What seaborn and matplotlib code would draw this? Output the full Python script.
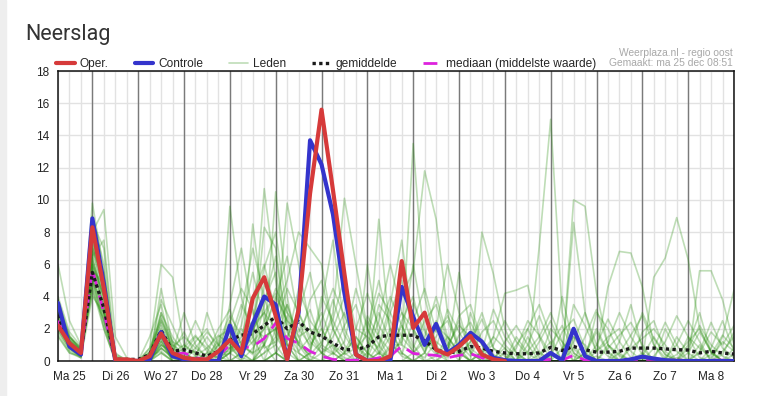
import numpy as np
import pandas as pd
import matplotlib
matplotlib.use("Agg")
import matplotlib.pyplot as plt
from matplotlib.lines import Line2D
from matplotlib.patches import Rectangle
import seaborn as sns

# tijdstappen van 6 uur, vanaf ma 25 dec 06:00
uur = np.arange(60) * 6
dagen = ["Ma 25", "Di 26", "Wo 27", "Do 28", "Vr 29", "Za 30", "Zo 31", "Ma 1",
         "Di 2", "Wo 3", "Do 4", "Vr 5", "Za 6", "Zo 7", "Ma 8"]

# neerslag in mm per 6 uur
oper = [2.2, 1.1, 0.5, 8.3, 4.5, 0.1, 0.1, 0.0, 0.3, 1.7,
        0.5, 0.2, 0.1, 0.1, 0.6, 1.3, 0.5, 3.9, 5.2, 2.8,
        0.1, 3.2, 10.4, 15.6, 10.6, 5.4, 0.4, 0.0, 0.0, 0.3,
        6.2, 2.05, 3.0, 0.7, 0.4, 0.9, 1.55, 0.4, 0.1, 0.0]
controle = [3.6, 0.9, 0.4, 8.85, 4.8, 0.0, 0.0, 0.0, 0.1, 1.8,
            0.3, 0.1, 0.1, 0.0, 0.0, 2.2, 0.3, 2.3, 4.0, 3.5,
            0.1, 3.0, 13.7, 12.2, 9.1, 4.2, 0.4, 0.0, 0.0, 0.0,
            4.6, 2.75, 1.0, 2.3, 0.5, 1.0, 1.75, 1.2, 0.2, 0.05,
            0.0, 0.0, 0.0, 0.5, 0.05, 2.0, 0.3, 0.0, 0.0, 0.0,
            0.1, 0.27, 0.15, 0.05, 0.0, 0.0, 0.0, 0.0, 0.0, 0.0]
gemiddelde = [2.85, 1.0, 0.5, 5.5, 3.3, 0.1, 0.1, 0.1, 0.4, 1.9,
              0.6, 0.7, 0.5, 0.3, 0.6, 1.3, 1.6, 1.7, 2.2, 2.75,
              2.0, 2.45, 1.8, 1.55, 1.1, 0.7, 0.7, 0.9, 1.5, 1.6,
              1.6, 1.6, 1.26, 0.7, 0.5, 0.6, 0.9, 0.8, 0.6, 0.5,
              0.45, 0.45, 0.5, 0.85, 0.65, 0.9, 0.7, 0.55, 0.55, 0.6,
              0.8, 0.8, 0.8, 0.75, 0.7, 0.68, 0.5, 0.6, 0.5, 0.43]
mediaan = [2.5, 0.9, 0.4, 5.7, 3.0, 0.05, 0.05, 0.05, 0.1, 1.7,
           0.4, 0.5, 0.2, 0.1, 0.3, 1.0, 0.8, 0.9, 1.4, 2.35,
           1.4, 1.1, 0.6, 0.3, 0.1, 0.05, 0.05, 0.05, 0.2, 0.3,
           0.93, 0.47, 0.4, 0.35, 0.2, 0.35, 0.45, 0.2, 0.05, 0.0,
           0.0, 0.0, 0.05, 0.1, 0.05, 0.35, 0.05, 0.0, 0.0, 0.05,
           0.1, 0.1, 0.1, 0.05, 0.05, 0.05, 0.0, 0.05, 0.05, 0.0]

# ensembleleden
lid01 = [3.2, 1.0, 0.4, 6.0, 3.0, 0.0, 0.0, 0.0, 0.5, 2.2,
         0.8, 0.3, 0.0, 0.2, 1.0, 2.5, 1.0, 0.5, 3.5, 6.5,
         2.0, 1.2, 0.3, 0.0, 2.0, 4.0, 1.0, 0.0, 0.0, 0.8,
         2.2, 0.5, 0.0, 0.3, 1.5, 0.6, 0.0, 0.0, 0.2, 0.8,
         0.0, 0.0, 0.4, 1.2, 0.0, 0.0, 0.5, 2.0, 0.6, 0.0,
         0.0, 0.3, 1.5, 0.4, 0.0, 0.0, 0.0, 0.8, 2.5, 0.6]
lid02 = [2.0, 1.5, 0.8, 9.8, 5.5, 0.3, 0.0, 0.0, 0.2, 1.0,
         0.3, 0.0, 0.0, 0.5, 0.2, 0.8, 3.0, 7.0, 4.0, 1.5,
         0.5, 3.0, 5.5, 2.0, 0.8, 0.2, 0.0, 1.0, 3.0, 1.2,
         0.3, 0.0, 0.5, 2.5, 1.0, 0.0, 0.0, 0.6, 0.0, 0.0,
         0.0, 1.5, 0.2, 0.0, 0.0, 0.8, 0.0, 0.0, 0.0, 1.2,
         3.5, 0.8, 0.0, 0.0, 0.2, 0.0, 1.0, 0.0, 0.0, 0.0]
lid03 = [6.0, 2.5, 1.0, 4.5, 2.0, 0.0, 0.0, 0.0, 0.0, 0.8,
         0.2, 0.5, 1.5, 0.8, 0.0, 0.0, 0.5, 1.5, 10.7, 5.0,
         1.0, 0.0, 0.5, 3.5, 7.5, 2.0, 0.5, 0.0, 0.0, 0.0,
         1.5, 6.0, 2.0, 0.5, 0.0, 0.0, 1.2, 3.0, 0.8, 0.0,
         0.0, 0.0, 0.0, 0.5, 0.0, 0.0, 0.0, 0.0, 1.0, 0.3,
         0.0, 0.0, 0.0, 2.0, 0.6, 0.0, 0.0, 0.0, 0.0, 0.0]
lid04 = [2.5, 0.8, 0.2, 8.0, 9.4, 1.5, 0.2, 0.0, 0.0, 4.5,
         1.0, 0.0, 0.0, 0.0, 0.5, 1.0, 0.0, 0.8, 2.0, 4.0,
         2.5, 1.0, 0.0, 0.0, 0.5, 0.0, 0.0, 2.0, 5.0, 2.0,
         0.5, 0.0, 0.0, 0.0, 0.8, 2.5, 0.5, 0.0, 0.0, 0.0,
         1.5, 0.5, 0.0, 0.0, 0.0, 0.0, 0.0, 0.3, 0.0, 0.0,
         0.0, 0.0, 0.0, 0.0, 0.0, 0.5, 1.8, 0.6, 0.0, 0.0]
lid05 = [3.0, 1.2, 0.5, 5.0, 3.5, 0.0, 0.0, 0.0, 0.8, 6.0,
         5.2, 1.0, 0.3, 0.0, 0.0, 9.6, 4.0, 1.5, 0.0, 2.0,
         3.5, 1.5, 0.0, 0.5, 1.0, 0.0, 0.0, 0.0, 1.0, 3.5,
         7.5, 2.0, 0.5, 0.0, 0.0, 0.0, 0.0, 0.0, 0.0, 0.0,
         0.0, 0.0, 0.0, 0.0, 0.0, 0.0, 0.5, 0.0, 0.0, 0.0,
         0.0, 0.0, 0.0, 0.0, 0.0, 0.0, 0.0, 0.0, 0.0, 0.0]
lid06 = [2.8, 1.0, 0.6, 7.0, 5.0, 0.0, 0.0, 0.0, 0.3, 1.5,
         0.5, 3.0, 1.0, 0.2, 0.0, 0.5, 1.0, 0.5, 1.0, 10.5,
         4.0, 0.5, 0.0, 0.0, 0.0, 0.5, 1.5, 0.5, 0.0, 0.0,
         0.0, 0.5, 1.5, 4.0, 1.5, 0.5, 0.0, 0.0, 0.0, 0.0,
         0.0, 0.0, 0.0, 0.0, 4.0, 1.0, 0.0, 0.0, 0.0, 0.0,
         0.0, 0.5, 0.0, 0.0, 0.0, 0.0, 0.0, 0.0, 0.0, 0.4]
lid07 = [1.5, 0.5, 0.3, 4.5, 2.5, 0.0, 0.0, 0.0, 0.0, 0.5,
         0.0, 0.0, 0.0, 3.0, 1.0, 0.0, 0.0, 0.0, 0.5, 1.5,
         9.8, 6.0, 2.0, 0.5, 0.0, 0.0, 0.0, 0.0, 0.5, 0.0,
         0.0, 0.0, 0.0, 0.0, 0.0, 0.0, 0.0, 0.5, 1.5, 4.2,
         4.4, 4.7, 1.5, 0.0, 0.0, 0.0, 0.0, 0.0, 0.0, 0.0,
         0.0, 0.0, 0.0, 0.0, 0.0, 0.0, 0.0, 0.0, 1.5, 4.4]
lid08 = [3.5, 1.5, 0.8, 6.5, 7.5, 0.5, 0.0, 0.0, 0.0, 3.0,
         1.5, 0.5, 0.0, 0.0, 0.0, 3.5, 7.0, 3.0, 1.0, 0.0,
         0.0, 0.0, 0.0, 1.0, 3.0, 10.1, 6.0, 2.0, 0.5, 0.0,
         0.0, 0.0, 0.0, 0.0, 0.0, 0.0, 0.0, 0.0, 0.0, 0.0,
         0.0, 0.0, 0.0, 0.0, 0.0, 0.0, 0.0, 0.0, 0.0, 0.0,
         0.0, 0.0, 0.0, 0.0, 0.0, 1.0, 3.0, 0.5, 0.0, 0.0]
lid09 = [2.2, 0.8, 0.3, 5.5, 2.5, 0.0, 0.0, 0.0, 0.2, 1.2,
         0.3, 0.8, 2.5, 1.0, 0.3, 0.0, 0.0, 8.5, 3.0, 0.5,
         0.0, 0.0, 0.0, 0.0, 0.0, 0.0, 0.0, 0.0, 0.0, 1.0,
         1.0, 13.5, 4.0, 1.0, 0.0, 0.0, 0.0, 0.0, 0.0, 0.0,
         0.0, 0.0, 0.0, 0.0, 0.0, 0.0, 0.0, 0.0, 0.0, 0.0,
         0.0, 0.0, 0.0, 0.0, 0.0, 0.0, 0.0, 0.0, 0.0, 0.0]
lid10 = [2.6, 1.2, 0.7, 9.0, 6.0, 0.2, 0.0, 0.0, 0.0, 2.0,
         0.8, 0.0, 0.0, 0.0, 0.0, 0.5, 2.0, 1.0, 8.3, 7.0,
         2.0, 0.0, 0.0, 0.0, 0.0, 0.0, 0.0, 0.0, 8.8, 1.5,
         4.0, 5.6, 11.8, 8.8, 3.0, 0.5, 0.0, 0.0, 0.0, 0.0,
         0.0, 0.0, 0.0, 0.0, 0.0, 0.0, 0.0, 0.0, 0.0, 0.0,
         0.0, 0.0, 0.0, 0.0, 0.0, 0.0, 0.0, 0.0, 0.0, 0.0]
lid11 = [1.8, 0.6, 0.2, 4.0, 3.0, 0.0, 0.0, 0.0, 0.0, 0.8,
         0.2, 0.0, 0.0, 0.0, 0.0, 0.0, 0.0, 0.0, 1.0, 3.0,
         5.0, 8.0, 7.0, 6.0, 2.0, 0.5, 0.0, 0.0, 0.0, 0.0,
         0.0, 0.0, 0.0, 0.0, 0.0, 0.0, 0.0, 8.0, 5.4, 2.0,
         0.5, 0.0, 0.0, 0.0, 0.0, 0.0, 0.0, 0.0, 0.0, 0.0,
         0.0, 0.0, 0.0, 0.0, 0.0, 0.0, 0.0, 0.0, 0.0, 0.0]
lid12 = [4.0, 1.8, 0.9, 6.0, 4.0, 0.0, 0.0, 0.0, 1.5, 3.5,
         0.5, 0.0, 0.0, 0.0, 1.5, 2.0, 0.5, 0.0, 0.0, 0.5,
         1.5, 3.0, 1.5, 0.5, 0.0, 0.0, 0.0, 0.5, 2.5, 6.0,
         3.0, 1.0, 0.0, 0.0, 0.5, 5.5, 2.0, 0.5, 0.0, 0.0,
         0.0, 0.0, 7.1, 15.0, 3.0, 0.5, 0.0, 0.0, 0.0, 0.0,
         0.0, 0.0, 0.0, 0.0, 0.0, 0.0, 0.0, 0.0, 0.0, 0.0]
lid13 = [2.4, 1.0, 0.5, 7.5, 3.0, 0.0, 0.0, 0.0, 0.0, 1.5,
         0.0, 0.0, 0.0, 0.0, 0.0, 1.5, 0.5, 0.0, 1.0, 2.5,
         1.0, 0.0, 0.0, 0.0, 0.0, 0.0, 0.0, 6.0, 1.5, 0.0,
         0.0, 0.0, 0.0, 0.0, 0.0, 0.0, 0.0, 0.0, 0.0, 0.5,
         0.0, 0.0, 0.0, 0.0, 0.0, 10.0, 9.6, 4.2, 1.0, 0.0,
         0.0, 0.0, 0.0, 0.0, 0.0, 0.0, 0.0, 0.0, 0.0, 0.0]
lid14 = [3.4, 1.2, 0.6, 6.8, 4.5, 0.0, 0.0, 0.0, 0.0, 1.0,
         0.5, 1.0, 0.5, 0.0, 0.0, 0.0, 0.0, 0.0, 0.5, 1.0,
         0.0, 0.0, 0.0, 0.0, 0.0, 0.5, 1.5, 0.5, 0.0, 0.0,
         0.0, 0.0, 0.0, 0.0, 0.0, 0.0, 0.0, 0.0, 0.0, 0.0,
         0.0, 0.0, 0.0, 0.0, 0.0, 8.6, 3.0, 0.5, 4.6, 6.8,
         6.7, 4.6, 1.0, 0.0, 0.0, 0.0, 0.0, 0.0, 0.0, 0.0]
lid15 = [2.0, 0.7, 0.3, 5.0, 2.0, 0.0, 0.0, 0.0, 0.0, 0.5,
         0.0, 0.0, 0.0, 0.0, 0.0, 0.0, 0.0, 0.0, 0.0, 0.5,
         0.0, 0.0, 0.0, 0.0, 0.0, 0.0, 0.0, 0.0, 0.0, 0.0,
         0.0, 0.0, 0.0, 0.0, 0.0, 0.0, 0.0, 0.0, 0.0, 0.0,
         0.0, 0.0, 0.0, 0.0, 0.0, 0.0, 0.0, 0.0, 0.0, 0.0,
         0.0, 0.0, 5.2, 6.4, 8.9, 6.3, 2.0, 0.5, 0.0, 0.0]
lid16 = [3.0, 1.4, 0.7, 5.8, 3.5, 0.0, 0.0, 0.0, 0.3, 2.5,
         1.0, 0.5, 0.0, 0.0, 0.3, 0.5, 1.5, 4.0, 6.0, 3.0,
         1.0, 0.5, 0.0, 0.0, 0.0, 0.0, 0.0, 0.0, 0.0, 0.0,
         0.0, 0.0, 0.0, 0.0, 0.0, 0.0, 0.0, 0.0, 0.0, 0.0,
         0.0, 0.0, 0.0, 0.0, 0.0, 0.0, 0.0, 0.0, 0.0, 0.0,
         0.0, 0.0, 0.0, 0.0, 0.0, 0.0, 5.6, 5.6, 3.8, 1.0]
lid17 = [1.6, 0.5, 0.2, 4.8, 2.8, 0.0, 0.0, 0.0, 0.0, 1.2,
         0.0, 0.0, 0.0, 0.0, 0.0, 0.5, 0.0, 0.0, 2.5, 4.5,
         3.0, 2.0, 1.0, 2.0, 0.5, 0.0, 0.0, 0.0, 0.0, 0.0,
         0.0, 0.0, 0.5, 2.0, 6.0, 3.0, 0.5, 0.0, 0.0, 0.0,
         0.0, 0.0, 0.0, 0.0, 0.0, 0.0, 0.0, 0.0, 0.0, 0.0,
         0.0, 0.0, 0.0, 0.0, 0.0, 0.0, 0.0, 0.0, 0.0, 0.0]
lid18 = [2.7, 1.1, 0.5, 6.2, 4.2, 0.0, 0.0, 0.0, 0.0, 1.8,
         0.2, 0.0, 0.0, 0.0, 0.0, 0.8, 0.2, 0.0, 0.0, 0.5,
         0.0, 0.0, 0.0, 0.0, 0.0, 0.0, 0.5, 2.5, 1.0, 0.0,
         0.0, 0.0, 0.0, 0.0, 0.0, 0.0, 0.0, 0.0, 0.0, 0.0,
         0.0, 0.0, 0.0, 0.0, 0.0, 0.0, 0.0, 0.0, 0.0, 0.0,
         0.0, 0.0, 0.0, 0.0, 0.0, 0.0, 0.0, 0.0, 0.0, 0.0]
lid19 = [3.8, 1.6, 0.6, 5.2, 2.2, 0.0, 0.0, 0.0, 0.4, 2.8,
         0.6, 0.0, 0.0, 0.0, 0.0, 0.0, 0.0, 0.0, 0.0, 0.0,
         0.0, 0.0, 0.0, 0.0, 0.0, 0.0, 0.0, 0.0, 0.0, 0.0,
         0.0, 0.0, 0.0, 0.0, 0.0, 0.0, 3.0, 1.0, 0.0, 0.0,
         0.0, 2.0, 3.5, 1.5, 0.0, 0.0, 0.0, 0.0, 0.0, 0.0,
         0.0, 0.0, 0.0, 0.0, 0.0, 0.0, 0.0, 0.0, 0.0, 0.0]
lid20 = [2.3, 0.9, 0.4, 7.0, 5.0, 0.4, 0.1, 0.0, 0.0, 1.3,
         0.0, 0.0, 0.0, 0.0, 0.0, 0.0, 0.0, 0.0, 0.0, 0.0,
         0.0, 0.0, 0.0, 0.0, 0.0, 0.0, 0.0, 0.0, 0.0, 0.0,
         0.0, 0.0, 0.0, 0.0, 0.0, 0.0, 0.0, 0.0, 0.0, 0.0,
         0.0, 0.0, 0.0, 0.0, 0.0, 0.0, 0.0, 3.0, 2.0, 0.5,
         0.0, 0.0, 0.0, 0.0, 0.0, 0.0, 0.0, 0.0, 0.0, 0.0]
lid21 = [2.9, 1.3, 0.5, 8.0, 3.8, 0.0, 0.0, 0.0, 0.2, 0.8,
         0.3, 0.0, 0.0, 0.0, 0.0, 0.0, 0.0, 0.0, 1.5, 2.0,
         0.0, 0.0, 0.5, 4.0, 2.5, 1.0, 0.0, 0.0, 0.0, 0.0,
         0.0, 0.0, 0.0, 0.0, 0.0, 0.0, 0.0, 0.0, 0.0, 0.0,
         0.0, 0.0, 0.0, 0.0, 0.0, 1.5, 1.0, 0.0, 0.0, 0.0,
         0.0, 0.0, 0.0, 0.0, 0.0, 0.0, 0.0, 0.0, 0.0, 0.0]
lid22 = [2.1, 0.9, 0.3, 6.0, 4.0, 0.0, 0.0, 0.0, 0.5, 3.0,
         1.2, 0.0, 0.0, 0.0, 0.0, 0.0, 0.5, 2.0, 3.0, 2.0,
         0.5, 0.0, 0.0, 0.0, 0.0, 0.0, 0.0, 0.0, 0.5, 2.0,
         0.5, 0.0, 0.0, 0.0, 0.0, 0.0, 0.0, 0.0, 0.0, 0.0,
         0.0, 0.0, 0.0, 0.0, 0.0, 0.0, 0.0, 0.0, 0.0, 0.0,
         0.0, 0.0, 0.0, 0.0, 1.5, 0.5, 0.0, 0.0, 0.0, 0.0]
lid23 = [2.6, 1.1, 0.4, 7.2, 5.5, 0.2, 0.0, 0.0, 0.6, 2.4,
         0.9, 1.5, 0.8, 0.3, 1.2, 2.8, 1.6, 2.2, 3.0, 4.2,
         2.5, 1.8, 3.2, 1.0, 0.5, 2.2, 3.5, 1.2, 0.4, 1.5,
         3.0, 2.0, 0.8, 1.5, 2.8, 1.0, 0.3, 1.8, 2.5, 1.0,
         0.3, 0.0, 1.2, 2.5, 0.8, 0.0, 1.5, 3.2, 1.0, 0.4,
         0.0, 1.8, 2.5, 0.6, 0.0, 0.8, 2.2, 1.0, 0.3, 0.0]
lid24 = [3.3, 1.4, 0.6, 5.0, 3.2, 0.1, 0.0, 0.0, 0.2, 1.6,
         0.4, 0.2, 1.2, 2.0, 0.6, 1.2, 3.5, 2.0, 1.5, 2.0,
         4.5, 3.0, 1.2, 0.5, 1.5, 3.0, 1.0, 0.2, 1.8, 4.0,
         2.2, 0.8, 2.5, 3.5, 1.2, 0.3, 0.8, 0.2, 0.0, 1.2,
         2.2, 1.0, 0.0, 0.3, 1.8, 2.6, 0.8, 0.0, 0.0, 0.5,
         1.6, 2.8, 1.0, 0.2, 0.0, 0.0, 0.5, 1.8, 1.0, 2.2]
lid25 = [1.9, 0.8, 0.3, 6.4, 3.8, 0.0, 0.0, 0.0, 0.4, 3.8,
         2.2, 0.6, 0.0, 0.5, 2.0, 3.2, 1.0, 0.4, 4.8, 3.2,
         1.2, 4.5, 2.5, 1.5, 3.8, 1.6, 0.5, 2.8, 1.5, 0.6,
         1.2, 3.6, 1.8, 0.6, 0.2, 1.6, 2.4, 1.0, 0.2, 0.0,
         0.8, 2.5, 1.6, 0.4, 0.0, 3.5, 2.2, 0.6, 1.5, 2.0,
         0.6, 0.0, 0.3, 1.2, 2.8, 1.5, 0.2, 0.0, 0.6, 1.5]
lid26 = [2.4, 1.0, 0.5, 8.6, 7.0, 0.0, 0.0, 0.0, 0.0, 1.0,
         0.6, 1.8, 0.4, 1.5, 0.5, 0.6, 2.2, 5.5, 2.5, 1.0,
         2.8, 1.0, 3.8, 5.0, 2.0, 0.6, 2.0, 4.2, 2.2, 1.0,
         0.4, 2.5, 4.5, 1.8, 2.5, 0.8, 0.0, 0.6, 3.2, 1.5,
         0.5, 0.0, 0.0, 2.0, 1.2, 0.0, 0.0, 1.0, 2.6, 1.2,
         0.2, 0.0, 0.8, 2.4, 1.0, 0.0, 0.0, 0.4, 1.6, 0.8]
lid27 = [2.2, 1.3, 0.7, 4.2, 2.6, 0.0, 0.0, 0.0, 0.3, 0.6,
         0.0, 0.4, 0.6, 0.0, 1.0, 1.8, 0.5, 1.2, 2.0, 3.8,
         6.5, 2.5, 0.8, 2.5, 4.5, 2.8, 1.0, 0.3, 3.5, 2.5,
         1.0, 0.5, 1.2, 0.4, 1.0, 2.2, 1.5, 0.5, 1.0, 2.5,
         1.2, 0.4, 0.6, 0.0, 0.8, 1.5, 0.4, 1.8, 0.5, 0.0,
         1.0, 3.0, 1.4, 0.4, 0.0, 1.5, 0.8, 0.2, 1.2, 0.6]
lid28 = [3.1, 1.2, 0.4, 5.6, 4.8, 0.3, 0.0, 0.0, 0.8, 2.6,
         1.2, 0.8, 1.6, 0.6, 0.2, 2.4, 4.5, 3.2, 0.8, 1.2,
         3.5, 1.0, 0.4, 1.2, 2.6, 5.2, 2.0, 1.5, 0.8, 3.0,
         5.0, 1.8, 0.6, 2.2, 1.5, 0.4, 1.2, 2.6, 0.8, 0.3,
         0.0, 1.0, 2.8, 1.0, 2.2, 0.5, 0.0, 0.6, 1.2, 3.0,
         1.5, 0.4, 0.0, 0.2, 1.0, 2.5, 1.2, 0.0, 0.4, 1.8]
lid29 = [2.5, 0.9, 0.5, 7.8, 4.2, 0.0, 0.0, 0.0, 0.0, 1.9,
         0.5, 0.0, 0.8, 1.8, 1.0, 0.8, 1.2, 2.5, 5.8, 8.0,
         3.0, 1.5, 2.0, 0.8, 0.4, 1.2, 4.5, 2.0, 0.6, 0.2,
         2.5, 4.0, 1.2, 0.8, 3.2, 1.8, 0.6, 0.0, 1.5, 0.8,
         0.0, 0.6, 1.5, 3.0, 1.2, 0.3, 0.0, 0.0, 0.8, 1.6,
         2.4, 1.0, 0.0, 0.0, 0.4, 1.2, 2.0, 0.6, 0.0, 0.8]
lid30 = [3.6, 1.5, 0.8, 6.6, 3.0, 0.0, 0.0, 0.0, 0.5, 1.4,
         0.3, 0.0, 0.3, 0.8, 1.6, 1.0, 0.3, 1.8, 3.8, 5.5,
         1.8, 0.6, 1.5, 3.0, 1.0, 0.4, 0.8, 1.6, 4.2, 3.0,
         1.5, 0.6, 0.2, 1.2, 0.6, 2.8, 3.5, 1.2, 0.4, 0.0,
         1.0, 2.0, 0.5, 0.0, 0.0, 1.2, 3.0, 1.0, 0.3, 0.0,
         0.8, 1.4, 2.0, 1.0, 0.0, 0.0, 0.6, 2.4, 0.8, 0.2]

leden = [lid01, lid02, lid03, lid04, lid05, lid06, lid07, lid08, lid09, lid10,
         lid11, lid12, lid13, lid14, lid15, lid16, lid17, lid18, lid19, lid20,
         lid21, lid22, lid23, lid24, lid25, lid26, lid27, lid28, lid29, lid30]

groen = "#2a8f10"
rood = "#d63a3a"
blauw = "#3434cc"
paars = "#dd22dd"

df_leden = pd.DataFrame({
    "uur": np.tile(uur, len(leden)),
    "mm": np.concatenate(leden),
    "lid": np.repeat(np.arange(len(leden)), len(uur)),
})

sns.set_style("white")
plt.rcParams["font.family"] = ["Liberation Sans", "DejaVu Sans"]

fig = plt.figure(figsize=(7.68, 3.96), dpi=100)
fig.patches.append(Rectangle((0, 0), 6 / 768, 1, transform=fig.transFigure,
                             color="#eeeeee", zorder=0))
ax = fig.add_axes([58 / 768, 35 / 396, 676 / 768, 290 / 396])

# raster
ax.set_xticks(uur, minor=True)
ax.set_xticks(uur[1::4])
ax.set_xticklabels(dagen)
ax.set_yticks(range(0, 19, 2))
ax.grid(which="both", axis="x", color="#e2e2e2", lw=1, zorder=0)
ax.grid(which="major", axis="y", color="#e2e2e2", lw=1, zorder=0)
for h in uur[3::4]:
    ax.axvline(h, color="#7a7a7a", lw=1, zorder=1)

sns.lineplot(data=df_leden, x="uur", y="mm", units="lid", estimator=None,
             color=groen, alpha=0.3, lw=1.2, ax=ax, legend=False, zorder=2)
sns.lineplot(x=uur, y=mediaan, color=paars, lw=2, ax=ax, zorder=3,
             dashes=False, linestyle=(0, (5, 3)))
sns.lineplot(x=uur, y=gemiddelde, color="#1a1a1a", lw=2.4, ax=ax, zorder=3,
             linestyle=(0, (1, 1)))
sns.lineplot(x=uur, y=controle, color=blauw, lw=3, ax=ax, zorder=4)
sns.lineplot(x=uur[:len(oper)], y=oper, color=rood, lw=3, ax=ax, zorder=5)

ax.set_xlim(0, uur[-1])
ax.set_ylim(0, 18)
ax.set_xlabel("")
ax.set_ylabel("")
for s in ax.spines.values():
    s.set_color("#111111")
    s.set_linewidth(1.1)
ax.tick_params(which="both", direction="out", length=4, width=1, color="#111111",
               labelsize=8.5, labelcolor="#222222", pad=2)
ax.tick_params(axis="x", which="major", pad=3)

handles = [
    Line2D([], [], color=rood, lw=3),
    Line2D([], [], color=blauw, lw=3),
    Line2D([], [], color=groen, alpha=0.3, lw=1.2),
    Line2D([], [], color="#1a1a1a", lw=2.4, linestyle=(0, (1, 1))),
    Line2D([], [], color=paars, lw=2, linestyle=(0, (5, 3))),
]
labels = ["Oper.", "Controle", "Leden", "gemiddelde", "mediaan (middelste waarde)"]
ax.legend(handles, labels, loc="lower left", bbox_to_anchor=(-3 / 676, 1.0),
          ncol=5, frameon=False, fontsize=8.6, borderpad=0, borderaxespad=0.1,
          handlelength=1.55, handletextpad=0.4, columnspacing=2.2)

fig.text(25 / 768, 1 - 40 / 396, "Neerslag", fontsize=15.5, color="#333333",
         family=["Roboto", "DejaVu Sans"], va="baseline")
fig.text(733 / 768, 1 - 53 / 396, "Weerplaza.nl - regio oost", fontsize=7.4,
         color="#a8a8a8", ha="right", va="center")
fig.text(733 / 768, 1 - 63 / 396, "Gemaakt: ma 25 dec 08:51", fontsize=7.4,
         color="#a8a8a8", ha="right", va="center")

fig.savefig("out.png", dpi=100)
